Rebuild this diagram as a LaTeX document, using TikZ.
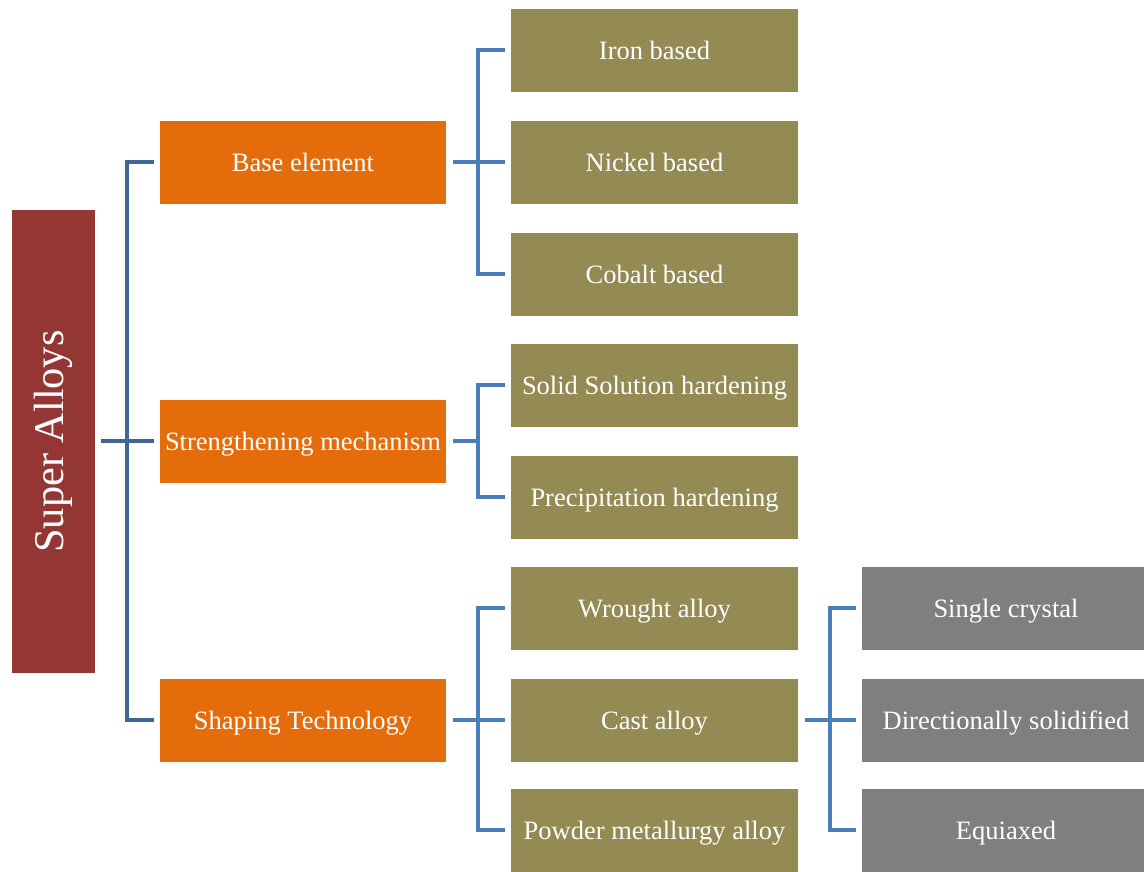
\documentclass[tikz,border=0pt]{standalone}
\usepackage{fontspec}
\setmainfont{Liberation Serif}
\definecolor{rootred}{HTML}{943634}
\definecolor{orangeA}{HTML}{E46C0A}
\definecolor{oliveA}{HTML}{948A54}
\definecolor{grayA}{HTML}{7F7F7F}
\definecolor{blueA}{HTML}{4A7EBB}
\definecolor{blueB}{HTML}{3F6796}
\begin{document}
\begin{tikzpicture}[x=1pt,y=1pt,
  box/.style={minimum height=83pt, inner sep=0pt, text=white, font=\fontsize{26.5}{30}\selectfont, text height=24pt, text depth=5pt, anchor=center},
  lone/.style={box, fill=orangeA, minimum width=286pt},
  ltwo/.style={box, fill=oliveA, minimum width=287pt},
  lthree/.style={box, fill=grayA, minimum width=288pt},
  conn/.style={draw=blueA, line width=4pt, line join=miter},
  rconn/.style={draw=blueB, line width=4pt, line join=miter}]
\useasboundingbox (0,0) rectangle (1144,872);
\begin{scope}
\clip (0,0) rectangle (1144,872);
% root
\node[fill=rootred, minimum width=83pt, minimum height=463pt, inner sep=0pt] (root) at (53.5,430.5) {};
\node[rotate=90, text=white, font=\fontsize{42.3}{48}\selectfont] (rootlabel) at (root.center) {Super Alloys};
% level 1
\node[lone] (b1) at (303,709.5) {Base element};
\node[lone] (b2) at (303,430.5) {Strengthening mechanism};
\node[lone] (b3) at (303,151.5) {Shaping Technology};
% level 2
\node[ltwo] (c1) at (654.5,821.5) {Iron based};
\node[ltwo] (c2) at (654.5,709.5) {Nickel based};
\node[ltwo] (c3) at (654.5,597.5) {Cobalt based};
\node[ltwo] (c4) at (654.5,486.5) {Solid Solution hardening};
\node[ltwo] (c5) at (654.5,374.5) {Precipitation hardening};
\node[ltwo] (c6) at (654.5,263.5) {Wrought alloy};
\node[ltwo] (c7) at (654.5,151.5) {Cast alloy};
\node[ltwo] (c8) at (654.5,41.5) {Powder metallurgy alloy};
% level 3
\node[lthree] (d1) at (1006,263.5) {Single crystal};
\node[lthree] (d2) at (1006,151.5) {Directionally solidified};
\node[lthree] (d3) at (1006,41.5) {Equiaxed};
% connectors root
\draw[rconn] ([xshift=6]root.east) -- ([xshift=-32.5]b2.west);
\draw[rconn] ([xshift=-6]b1.west) -- ([xshift=-32.5]b1.west) -- ([xshift=-32.5]b3.west) -- ([xshift=-6]b3.west);
\draw[rconn] ([xshift=-6]b2.west) -- ([xshift=-32.5]b2.west);
% base element
\draw[conn] ([xshift=7]b1.east) -- ([xshift=-6]c2.west);
\draw[conn] ([xshift=-6]c1.west) -- ([xshift=-32.5]c1.west) -- ([xshift=-32.5]c3.west) -- ([xshift=-6]c3.west);
% strengthening
\draw[conn] ([xshift=7]b2.east) -- ([xshift=-32.5]b2.east -| c4.west);
\draw[conn] ([xshift=-6]c4.west) -- ([xshift=-32.5]c4.west) -- ([xshift=-32.5]c5.west) -- ([xshift=-6]c5.west);
% shaping
\draw[conn] ([xshift=7]b3.east) -- ([xshift=-6]c7.west);
\draw[conn] ([xshift=-6]c6.west) -- ([xshift=-32.5]c6.west) -- ([xshift=-32.5]c8.west) -- ([xshift=-6]c8.west);
% cast
\draw[conn] ([xshift=7]c7.east) -- ([xshift=-6]d2.west);
\draw[conn] ([xshift=-6]d1.west) -- ([xshift=-32]d1.west) -- ([xshift=-32]d3.west) -- ([xshift=-6]d3.west);
\end{scope}
\end{tikzpicture}
\end{document}
